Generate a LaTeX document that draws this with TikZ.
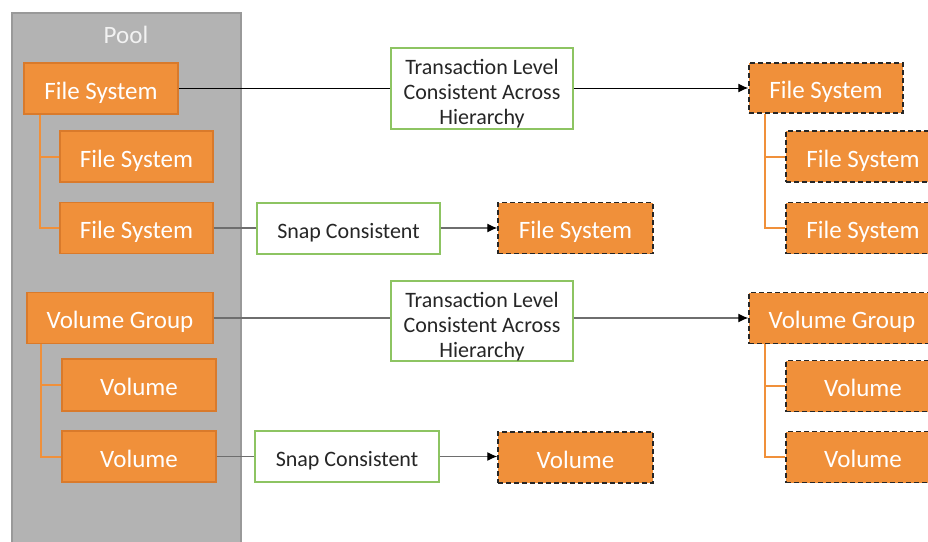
\documentclass[tikz,border=0pt]{standalone}
\usepackage{fontspec}
\setmainfont{Carlito}
\usetikzlibrary{arrows.meta}
\definecolor{orfill}{HTML}{F0903A}
\definecolor{ordraw}{HTML}{D97A2B}
\definecolor{grnb}{HTML}{8DC462}
\definecolor{poolfill}{HTML}{B3B3B3}
\definecolor{pooldraw}{HTML}{999999}
\definecolor{txtdark}{HTML}{262626}
\definecolor{lngray}{HTML}{6E6E6E}
\newcommand{\tlstrut}{\rule{0pt}{26pt}}
\tikzset{
  obox/.style={rectangle, fill=orfill, draw=ordraw, line width=1.3pt, text=white,
    font=\fontsize{25}{28}\selectfont, inner sep=0pt, text height=21pt, text depth=0pt},
  dbox/.style={rectangle, fill=orfill, draw=black!85, line width=1.5pt, dash pattern=on 5pt off 3pt,
    text=white, font=\fontsize{25}{28}\selectfont, inner sep=0pt, text height=21pt, text depth=0pt},
  gbox/.style={rectangle, fill=white, draw=grnb, line width=1.3pt, text=txtdark,
    font=\fontsize{22}{25}\selectfont, align=center, inner sep=0pt},
  sbox/.style={gbox, text height=20pt, text depth=0pt},
  tree/.style={draw=orfill, line width=2pt},
  conn/.style={draw=lngray, line width=1.1pt},
  connk/.style={draw=black, line width=1pt},
  arr/.style={-{Latex[length=10pt,width=9pt,black]}},
}
\begin{document}
\begin{tikzpicture}[x=1pt,y=-1pt]
\clip (0,0) rectangle (928,541);
\fill[white] (0,0) rectangle (928,541);
% pool
\node[rectangle, fill=poolfill, draw=pooldraw, line width=1.5pt, minimum width=229pt, minimum height=540pt, anchor=north west] (pool) at (11,12) {};
\node[text=white!95!black, font=\fontsize{25}{28}\selectfont] (pooltxt) at (126,35) {Pool};
% left file systems
\node[obox, minimum width=154pt, minimum height=51pt] (fsA) at (101,88.5) {File System};
\node[obox, minimum width=153pt, minimum height=51pt] (fsB) at (136.5,156.5) {File System};
\node[obox, minimum width=153pt, minimum height=51pt] (fsC) at (136.5,228) {File System};
% left volumes
\node[obox, minimum width=186pt, minimum height=51pt] (vg) at (120,318) {Volume Group};
\node[obox, minimum width=154pt, minimum height=52pt] (volA) at (139,385) {Volume};
\node[obox, minimum width=154pt, minimum height=51pt] (volB) at (139,456.5) {Volume};
% middle green boxes
\node[gbox, minimum width=182pt, minimum height=81pt] (tl1) at (482,88.5) {\tlstrut Transaction Level\\Consistent Across\\Hierarchy};
\node[sbox, minimum width=183pt, minimum height=51pt] (snap1) at (348.5,228.5) {Snap Consistent};
\node[gbox, minimum width=182pt, minimum height=80pt] (tl2) at (482,321) {\tlstrut Transaction Level\\Consistent Across\\Hierarchy};
\node[sbox, minimum width=184pt, minimum height=51pt] (snap2) at (347,456.5) {Snap Consistent};
% snapshots (dashed)
\node[dbox, minimum width=155pt, minimum height=51pt] (fsS) at (575.5,228) {File System};
\node[dbox, minimum width=155pt, minimum height=51pt] (volS) at (575.5,457.5) {Volume};
\node[dbox, minimum width=154pt, minimum height=50pt] (rFS) at (826,88) {File System};
\node[dbox, minimum width=154pt, minimum height=51pt] (rFS2) at (863,156.5) {File System};
\node[dbox, minimum width=154pt, minimum height=51pt] (rFS3) at (863,228) {File System};
\node[dbox, minimum width=186pt, minimum height=51pt] (rVG) at (842,318) {Volume Group};
\node[dbox, minimum width=154pt, minimum height=51pt] (rVol1) at (863,386) {Volume};
\node[dbox, minimum width=154pt, minimum height=51pt] (rVol2) at (863,457) {Volume};
% trees
\draw[tree] ([xshift=17pt]fsA.south west) |- (fsB.west);
\draw[tree] ([xshift=17pt]fsA.south west) |- (fsC.west);
\draw[tree] ([xshift=15pt]vg.south west) |- (volA.west);
\draw[tree] ([xshift=15pt]vg.south west) |- (volB.west);
\draw[tree] ([xshift=17pt]rFS.south west) |- (rFS2.west);
\draw[tree] ([xshift=17pt]rFS.south west) |- (rFS3.west);
\draw[tree] ([xshift=17pt]rVG.south west) |- (rVol1.west);
\draw[tree] ([xshift=17pt]rVG.south west) |- (rVol2.west);
% connectors
\draw[connk] (fsA.east) -- (fsA.east -| tl1.west);
\draw[connk, arr] (tl1.east |- rFS.west) -- (rFS.west);
\draw[conn] (fsC.east) -- (fsC.east -| snap1.west);
\draw[conn, arr] (snap1.east |- fsS.west) -- (fsS.west);
\draw[conn] (vg.east) -- (vg.east -| tl2.west);
\draw[conn, arr] (tl2.east |- rVG.west) -- (rVG.west);
\draw[conn] (volB.east) -- (volB.east -| snap2.west);
\draw[conn, arr] (snap2.east |- volB.east) -- (volS.west |- volB.east);
\end{tikzpicture}
\end{document}
